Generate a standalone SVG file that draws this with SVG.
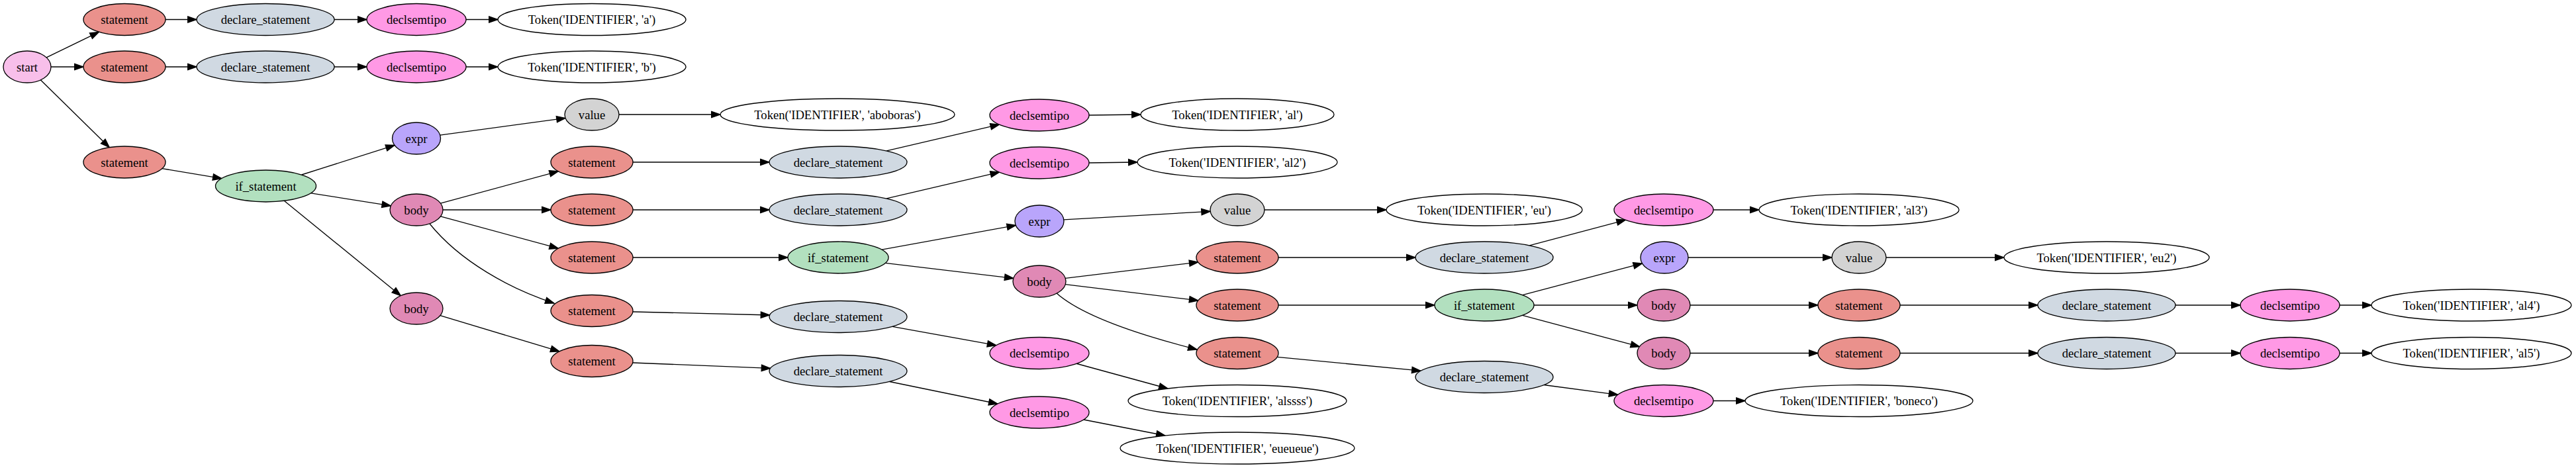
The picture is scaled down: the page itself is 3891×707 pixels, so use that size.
<svg xmlns="http://www.w3.org/2000/svg" width="3891" height="707" viewBox="0 0 3891 707">
<defs>
<style>
ellipse{stroke:#000;stroke-width:1.33}
.st{fill:#F8BFEA}.sm{fill:#EA918C}.dc{fill:#D0D9E2}.ds{fill:#FF99E5}.if{fill:#B2E0BF}.ex{fill:#B9A5FB}.bd{fill:#E089B5}.vl{fill:#D3D3D3}.tk{fill:#FFFFFF}
text{font-family:"Liberation Serif","Times New Roman",serif;font-size:18.67px;text-anchor:middle;fill:#000}
.e{fill:none;stroke:#000;stroke-width:1.33;marker-end:url(#ah)}
</style>
<marker id="ah" markerUnits="userSpaceOnUse" markerWidth="16" markerHeight="12" refX="13.3" refY="4.67" orient="auto" overflow="visible"><path d="M0,0 L13.3,4.67 L0,9.33 z" fill="#000" stroke="#000" stroke-width="1.33"/></marker>
</defs>
<rect width="3891" height="707" fill="#fff"/>
<g id="connectors">
<path class="e" d="M70.1,86.9 L149.4,48.3"/>
<path class="e" d="M77,101 L126,101"/>
<path class="e" d="M61.3,120.8 L165.2,222.7"/>
<path class="e" d="M250,29.5 L297,29.5"/>
<path class="e" d="M505,29.5 L554,29.5"/>
<path class="e" d="M704,29.5 L752,29.5"/>
<path class="e" d="M250,101 L297,101"/>
<path class="e" d="M505,101 L554,101"/>
<path class="e" d="M704,101 L752,101"/>
<path class="e" d="M244.9,254.6 L334.9,269.7"/>
<path class="e" d="M455.6,264 L596.1,219.4"/>
<path class="e" d="M469.9,291.8 L590.3,310.9"/>
<path class="e" d="M429.5,303.4 L605.3,446.7"/>
<path class="e" d="M664.7,204.1 L854.1,178.4"/>
<path class="e" d="M935,173 L1088,173"/>
<path class="e" d="M665.4,307.1 L843.3,258.8"/>
<path class="e" d="M669,317 L832,317"/>
<path class="e" d="M665.4,326.9 L843.3,375.2"/>
<path class="e" d="M649,338 C695,395 770,436 837,458"/>
<path class="e" d="M664.8,476.7 L845,530.8"/>
<path class="e" d="M956,245 L1162,245"/>
<path class="e" d="M956,317 L1162,317"/>
<path class="e" d="M956,389 L1190,389"/>
<path class="e" d="M955.9,471 L1162.6,476"/>
<path class="e" d="M955.7,548 L1163.6,556.4"/>
<path class="e" d="M1339.1,227.9 L1509.4,188.2"/>
<path class="e" d="M1645,174 L1723,173"/>
<path class="e" d="M1339.1,299.9 L1509.4,260.2"/>
<path class="e" d="M1645,246 L1718,245"/>
<path class="e" d="M1331.9,377.1 L1534.4,340.4"/>
<path class="e" d="M1337.2,397.4 L1530.8,420.4"/>
<path class="e" d="M1606.9,331.9 L1828.2,319.3"/>
<path class="e" d="M1910,317 L2094,317"/>
<path class="e" d="M1609.2,420.3 L1809.8,396.1"/>
<path class="e" d="M1609.2,429.7 L1809.8,453.9"/>
<path class="e" d="M1596,443 C1640,482 1745,512 1808,528"/>
<path class="e" d="M1931,389 L2138,389"/>
<path class="e" d="M1931,461 L2167,461"/>
<path class="e" d="M1929.2,539.3 L2146,560.2"/>
<path class="e" d="M2310.2,370.9 L2455.3,332.3"/>
<path class="e" d="M2588,317 L2657,317"/>
<path class="e" d="M2299.8,445.7 L2480.5,397.9"/>
<path class="e" d="M2317,461 L2473,461"/>
<path class="e" d="M2299.5,476.4 L2476.5,523.7"/>
<path class="e" d="M2550,389 L2767,389"/>
<path class="e" d="M2849,389 L3027,389"/>
<path class="e" d="M2553,461 L2746,461"/>
<path class="e" d="M2870,461 L3078,461"/>
<path class="e" d="M3286,461 L3384,461"/>
<path class="e" d="M3534,461 L3582,461"/>
<path class="e" d="M2553,533.5 L2746,533.5"/>
<path class="e" d="M2870,533.5 L3078,533.5"/>
<path class="e" d="M3286,533.5 L3384,533.5"/>
<path class="e" d="M3534,533.5 L3582,533.5"/>
<path class="e" d="M2332.1,581.5 L2443.7,596.3"/>
<path class="e" d="M2588,605.5 L2636,605.5"/>
<path class="e" d="M1348,493.3 L1504.7,521.7"/>
<path class="e" d="M1343.6,576.5 L1506.9,610"/>
<path class="e" d="M1625,549 L1764,587"/>
<path class="e" d="M1637,634 L1760,658"/>
</g>
<g id="start"><ellipse class="st" cx="41" cy="101" rx="36" ry="24"/><text x="41" y="107.5">start</text></g>
<g id="s1"><ellipse class="sm" cx="188" cy="29.5" rx="62" ry="24"/><text x="188" y="36">statement</text></g>
<g id="d1"><ellipse class="dc" cx="401" cy="29.5" rx="104" ry="24"/><text x="401" y="36">declare_statement</text></g>
<g id="t1"><ellipse class="ds" cx="629" cy="29.5" rx="75" ry="24"/><text x="629" y="36">declsemtipo</text></g>
<g id="k1"><ellipse class="tk" cx="894" cy="29.5" rx="142" ry="24"/><text x="894" y="36">Token('IDENTIFIER', 'a')</text></g>
<g id="s2"><ellipse class="sm" cx="188" cy="101" rx="62" ry="24"/><text x="188" y="107.5">statement</text></g>
<g id="d2"><ellipse class="dc" cx="401" cy="101" rx="104" ry="24"/><text x="401" y="107.5">declare_statement</text></g>
<g id="t2"><ellipse class="ds" cx="629" cy="101" rx="75" ry="24"/><text x="629" y="107.5">declsemtipo</text></g>
<g id="k2"><ellipse class="tk" cx="894" cy="101" rx="142" ry="24"/><text x="894" y="107.5">Token('IDENTIFIER', 'b')</text></g>
<g id="s3"><ellipse class="sm" cx="188" cy="245" rx="62" ry="24"/><text x="188" y="251.5">statement</text></g>
<g id="if1"><ellipse class="if" cx="401.5" cy="281" rx="76" ry="24"/><text x="401.5" y="287.5">if_statement</text></g>
<g id="e1"><ellipse class="ex" cx="629" cy="209" rx="36.5" ry="24"/><text x="629" y="215.5">expr</text></g>
<g id="v1"><ellipse class="vl" cx="894" cy="173" rx="41" ry="24"/><text x="894" y="179.5">value</text></g>
<g id="k3"><ellipse class="tk" cx="1265" cy="173" rx="177" ry="24"/><text x="1265" y="179.5">Token('IDENTIFIER', 'aboboras')</text></g>
<g id="b1"><ellipse class="bd" cx="629" cy="317" rx="40" ry="24"/><text x="629" y="323.5">body</text></g>
<g id="b2"><ellipse class="bd" cx="629" cy="466" rx="40" ry="24"/><text x="629" y="472.5">body</text></g>
<g id="s4"><ellipse class="sm" cx="894" cy="245" rx="62" ry="24"/><text x="894" y="251.5">statement</text></g>
<g id="s5"><ellipse class="sm" cx="894" cy="317" rx="62" ry="24"/><text x="894" y="323.5">statement</text></g>
<g id="s6"><ellipse class="sm" cx="894" cy="389" rx="62" ry="24"/><text x="894" y="395.5">statement</text></g>
<g id="s7"><ellipse class="sm" cx="894" cy="469.5" rx="62" ry="24"/><text x="894" y="476">statement</text></g>
<g id="s8"><ellipse class="sm" cx="894" cy="545.5" rx="62" ry="24"/><text x="894" y="552">statement</text></g>
<g id="d4"><ellipse class="dc" cx="1266" cy="245" rx="104" ry="24"/><text x="1266" y="251.5">declare_statement</text></g>
<g id="d5"><ellipse class="dc" cx="1266" cy="317" rx="104" ry="24"/><text x="1266" y="323.5">declare_statement</text></g>
<g id="if2"><ellipse class="if" cx="1266" cy="389" rx="76" ry="24"/><text x="1266" y="395.5">if_statement</text></g>
<g id="d7"><ellipse class="dc" cx="1266" cy="478.5" rx="104" ry="24"/><text x="1266" y="485">declare_statement</text></g>
<g id="d8"><ellipse class="dc" cx="1266" cy="560.5" rx="104" ry="24"/><text x="1266" y="567">declare_statement</text></g>
<g id="t4"><ellipse class="ds" cx="1570" cy="174" rx="75" ry="24"/><text x="1570" y="180.5">declsemtipo</text></g>
<g id="k4"><ellipse class="tk" cx="1869" cy="173" rx="146" ry="24"/><text x="1869" y="179.5">Token('IDENTIFIER', 'al')</text></g>
<g id="t5"><ellipse class="ds" cx="1570" cy="246" rx="75" ry="24"/><text x="1570" y="252.5">declsemtipo</text></g>
<g id="k5"><ellipse class="tk" cx="1869" cy="245" rx="151" ry="24"/><text x="1869" y="251.5">Token('IDENTIFIER', 'al2')</text></g>
<g id="e2"><ellipse class="ex" cx="1570" cy="334" rx="37" ry="24"/><text x="1570" y="340.5">expr</text></g>
<g id="v2"><ellipse class="vl" cx="1869" cy="317" rx="41" ry="24"/><text x="1869" y="323.5">value</text></g>
<g id="k6"><ellipse class="tk" cx="2242" cy="317" rx="148" ry="24"/><text x="2242" y="323.5">Token('IDENTIFIER', 'eu')</text></g>
<g id="b3"><ellipse class="bd" cx="1570" cy="425" rx="40" ry="24"/><text x="1570" y="431.5">body</text></g>
<g id="s9"><ellipse class="sm" cx="1869" cy="389" rx="62" ry="24"/><text x="1869" y="395.5">statement</text></g>
<g id="s10"><ellipse class="sm" cx="1869" cy="461" rx="62" ry="24"/><text x="1869" y="467.5">statement</text></g>
<g id="s11"><ellipse class="sm" cx="1869" cy="533.5" rx="62" ry="24"/><text x="1869" y="540">statement</text></g>
<g id="d9"><ellipse class="dc" cx="2242" cy="389" rx="104" ry="24"/><text x="2242" y="395.5">declare_statement</text></g>
<g id="if3"><ellipse class="if" cx="2242" cy="461" rx="75" ry="24"/><text x="2242" y="467.5">if_statement</text></g>
<g id="d12"><ellipse class="dc" cx="2242" cy="569.5" rx="104" ry="24"/><text x="2242" y="576">declare_statement</text></g>
<g id="t6"><ellipse class="ds" cx="2513" cy="317" rx="75" ry="24"/><text x="2513" y="323.5">declsemtipo</text></g>
<g id="k7"><ellipse class="tk" cx="2808" cy="317" rx="151" ry="24"/><text x="2808" y="323.5">Token('IDENTIFIER', 'al3')</text></g>
<g id="e3"><ellipse class="ex" cx="2514" cy="389" rx="36" ry="24"/><text x="2514" y="395.5">expr</text></g>
<g id="v3"><ellipse class="vl" cx="2808" cy="389" rx="41" ry="24"/><text x="2808" y="395.5">value</text></g>
<g id="k8"><ellipse class="tk" cx="3182" cy="389" rx="155" ry="24"/><text x="3182" y="395.5">Token('IDENTIFIER', 'eu2')</text></g>
<g id="b4"><ellipse class="bd" cx="2513" cy="461" rx="40" ry="24"/><text x="2513" y="467.5">body</text></g>
<g id="s12"><ellipse class="sm" cx="2808" cy="461" rx="62" ry="24"/><text x="2808" y="467.5">statement</text></g>
<g id="d10"><ellipse class="dc" cx="3182" cy="461" rx="104" ry="24"/><text x="3182" y="467.5">declare_statement</text></g>
<g id="t7"><ellipse class="ds" cx="3459" cy="461" rx="75" ry="24"/><text x="3459" y="467.5">declsemtipo</text></g>
<g id="k9"><ellipse class="tk" cx="3733" cy="461" rx="151" ry="24"/><text x="3733" y="467.5">Token('IDENTIFIER', 'al4')</text></g>
<g id="b5"><ellipse class="bd" cx="2513" cy="533.5" rx="40" ry="24"/><text x="2513" y="540">body</text></g>
<g id="s13"><ellipse class="sm" cx="2808" cy="533.5" rx="62" ry="24"/><text x="2808" y="540">statement</text></g>
<g id="d11"><ellipse class="dc" cx="3182" cy="533.5" rx="104" ry="24"/><text x="3182" y="540">declare_statement</text></g>
<g id="t8"><ellipse class="ds" cx="3459" cy="533.5" rx="75" ry="24"/><text x="3459" y="540">declsemtipo</text></g>
<g id="k10"><ellipse class="tk" cx="3733" cy="533.5" rx="151" ry="24"/><text x="3733" y="540">Token('IDENTIFIER', 'al5')</text></g>
<g id="t9"><ellipse class="ds" cx="2513" cy="605.5" rx="75" ry="24"/><text x="2513" y="612">declsemtipo</text></g>
<g id="k11"><ellipse class="tk" cx="2808" cy="605.5" rx="172" ry="24"/><text x="2808" y="612">Token('IDENTIFIER', 'boneco')</text></g>
<g id="t10"><ellipse class="ds" cx="1570" cy="533.5" rx="75" ry="24"/><text x="1570" y="540">declsemtipo</text></g>
<g id="k12"><ellipse class="tk" cx="1869" cy="605.5" rx="165" ry="24"/><text x="1869" y="612">Token('IDENTIFIER', 'alssss')</text></g>
<g id="t11"><ellipse class="ds" cx="1570" cy="623" rx="75" ry="24"/><text x="1570" y="629.5">declsemtipo</text></g>
<g id="k13"><ellipse class="tk" cx="1869" cy="677" rx="177" ry="24"/><text x="1869" y="683.5">Token('IDENTIFIER', 'eueueue')</text></g>
</svg>
